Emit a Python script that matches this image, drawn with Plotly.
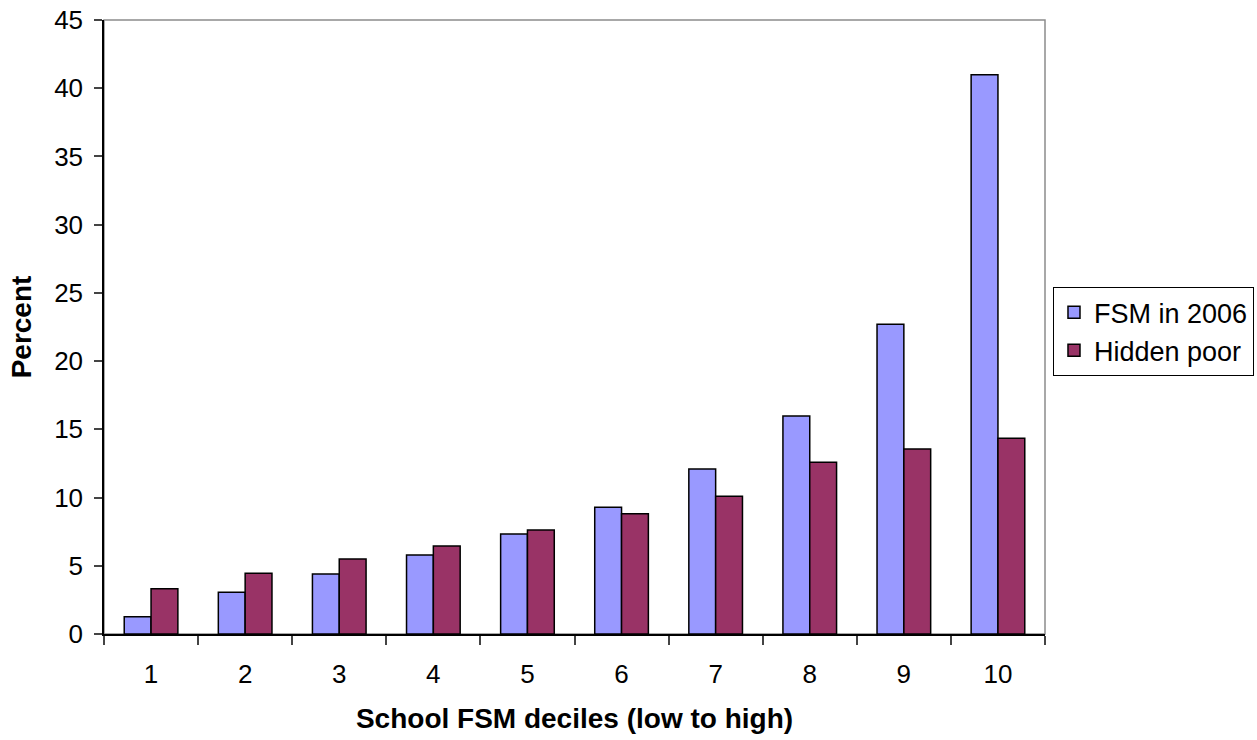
import plotly.graph_objects as go

deciles = ["1", "2", "3", "4", "5", "6", "7", "8", "9", "10"]
fsm_2006 = [1.27, 3.06, 4.40, 5.79, 7.33, 9.29, 12.1, 15.98, 22.7, 40.98]
hidden_poor = [3.32, 4.45, 5.50, 6.45, 7.62, 8.82, 10.09, 12.59, 13.56, 14.35]
y_ticks = [0, 5, 10, 15, 20, 25, 30, 35, 40, 45]

FONT = "Liberation Sans, Arial, sans-serif"

fig = go.Figure()
fig.add_trace(go.Bar(
    x=deciles, y=fsm_2006, name="FSM in 2006",
    marker=dict(color="#9999FF", line=dict(color="black", width=1.5)),
))
fig.add_trace(go.Bar(
    x=deciles, y=hidden_poor, name="Hidden poor",
    marker=dict(color="#993366", line=dict(color="black", width=1.5)),
))

# light frame on top and right of the plotting area
fig.add_shape(type="rect", xref="paper", yref="paper", x0=0, x1=1, y0=0, y1=1,
              line=dict(color="#8c8c8c", width=1.5), layer="below")

fig.update_layout(
    width=1257, height=740,
    margin=dict(l=104, r=212, t=20, b=106, autoexpand=False),
    paper_bgcolor="white", plot_bgcolor="white",
    barmode="group", bargap=0.43, bargroupgap=0,
    font=dict(family=FONT, size=26, color="black"),
    showlegend=True,
    legend=dict(
        xref="container", yref="container",
        x=0.8377, y=0.612, xanchor="left", yanchor="top",
        bordercolor="black", borderwidth=1, bgcolor="white",
        font=dict(size=27), tracegroupgap=0,
    ),
    xaxis=dict(
        type="category", tickson="boundaries",
        ticks="outside", ticklen=9, tickcolor="#444", tickwidth=1.5,
        showline=True, linecolor="black", linewidth=1.5,
        showgrid=False, ticklabelstandoff=16,
        title=dict(text="<b>School FSM deciles (low to high)</b>",
                   font=dict(size=28), standoff=20),
    ),
    yaxis=dict(
        range=[0, 45], tickvals=y_ticks,
        ticks="outside", ticklen=8, tickcolor="#444", tickwidth=1.5,
        showline=True, linecolor="black", linewidth=1.5,
        showgrid=False, zeroline=False, ticklabelstandoff=6,
        title=dict(text="<b>Percent</b>", font=dict(size=28), standoff=14),
    ),
)

fig.write_html("out.html")
